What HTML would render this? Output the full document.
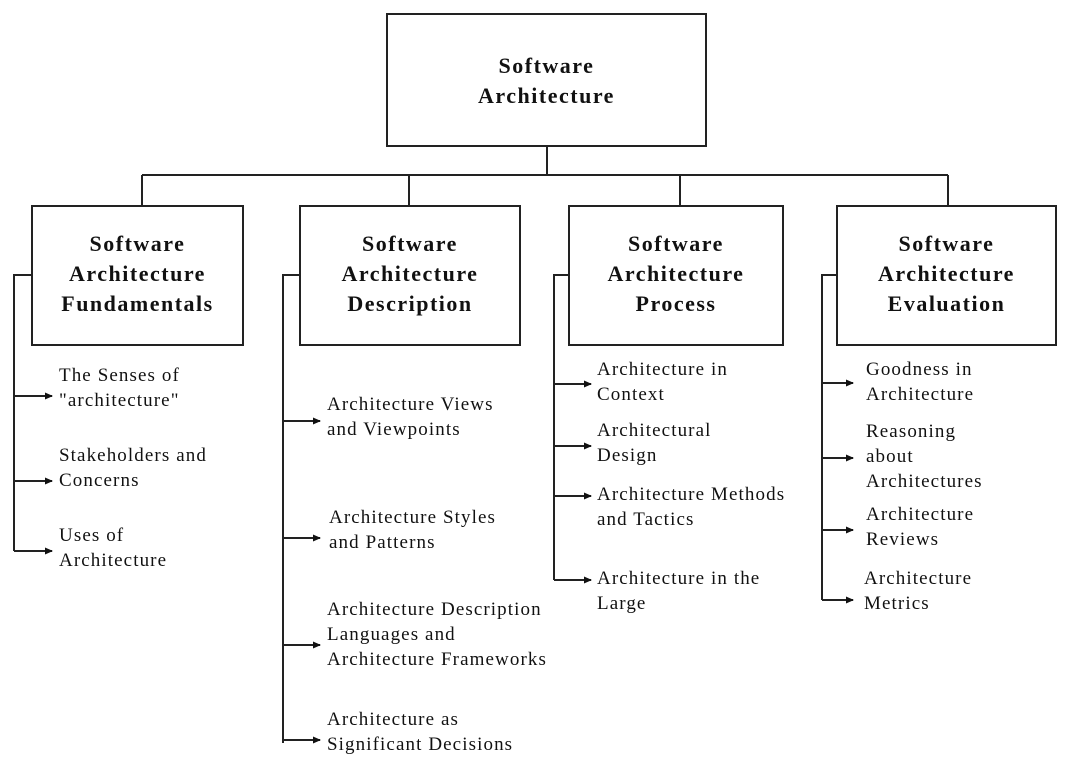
<!DOCTYPE html>
<html><head><meta charset="utf-8"><style>
body{margin:0;width:1074px;height:771px;background:#fff;position:relative;overflow:hidden;font-family:"Liberation Serif",serif;color:#111}
.t{position:absolute;font-size:19px;letter-spacing:1.1px;line-height:25px;white-space:nowrap}
.h{position:absolute;font-weight:bold;font-size:22px;letter-spacing:1.5px;line-height:30px;text-align:center}
svg{position:absolute;left:0;top:0}
</style></head><body>
<svg width="1074" height="771">
<defs><marker id="a" markerWidth="8" markerHeight="8" refX="7" refY="4" orient="auto" markerUnits="userSpaceOnUse"><path d="M0,0.5 L8,4 L0,7.5z" fill="#111"/></marker></defs>
<g stroke="#222" stroke-width="2" fill="none">
<rect x="387" y="14" width="319" height="132" fill="#fff"/>
<rect x="32" y="206" width="211" height="139"/>
<rect x="300" y="206" width="220" height="139"/>
<rect x="569" y="206" width="214" height="139"/>
<rect x="837" y="206" width="219" height="139"/>
<path d="M547 146V175M142 175H948M142 175V206M409 175V206M680 175V206M948 175V206"/>
<path d="M32 275H14V551"/>
<path d="M300 275H283V743"/>
<path d="M569 275H554V580"/>
<path d="M837 275H822V600"/>
<g marker-end="url(#a)">
<path d="M14 396H52"/><path d="M14 481H52"/><path d="M14 551H52"/>
<path d="M283 421H320"/><path d="M283 538H320"/><path d="M283 645H320"/><path d="M283 740H320"/>
<path d="M554 384H591"/><path d="M554 446H591"/><path d="M554 496H591"/><path d="M554 580H591"/>
<path d="M822 383H853"/><path d="M822 458H853"/><path d="M822 530H853"/><path d="M822 600H853"/>
</g></g></svg>
<div class="h" style="left:387px;top:51px;width:319px">Software<br>Architecture</div>
<div class="h" style="left:32px;top:229px;width:211px">Software<br>Architecture<br>Fundamentals</div>
<div class="h" style="left:300px;top:229px;width:220px">Software<br>Architecture<br>Description</div>
<div class="h" style="left:569px;top:229px;width:214px">Software<br>Architecture<br>Process</div>
<div class="h" style="left:837px;top:229px;width:219px">Software<br>Architecture<br>Evaluation</div>
<div class="t" style="left:59px;top:363px">The Senses of<br>"architecture"</div>
<div class="t" style="left:59px;top:443px">Stakeholders and<br>Concerns</div>
<div class="t" style="left:59px;top:523px">Uses of<br>Architecture</div>
<div class="t" style="left:327px;top:392px">Architecture Views<br>and Viewpoints</div>
<div class="t" style="left:329px;top:505px">Architecture Styles<br>and Patterns</div>
<div class="t" style="left:327px;top:597px">Architecture Description<br>Languages and<br>Architecture Frameworks</div>
<div class="t" style="left:327px;top:707px">Architecture as<br>Significant Decisions</div>
<div class="t" style="left:597px;top:357px">Architecture in<br>Context</div>
<div class="t" style="left:597px;top:418px">Architectural<br>Design</div>
<div class="t" style="left:597px;top:482px">Architecture Methods<br>and Tactics</div>
<div class="t" style="left:597px;top:566px">Architecture in the<br>Large</div>
<div class="t" style="left:866px;top:357px">Goodness in<br>Architecture</div>
<div class="t" style="left:866px;top:419px">Reasoning<br>about<br>Architectures</div>
<div class="t" style="left:866px;top:502px">Architecture<br>Reviews</div>
<div class="t" style="left:864px;top:566px">Architecture<br>Metrics</div>
</body></html>
